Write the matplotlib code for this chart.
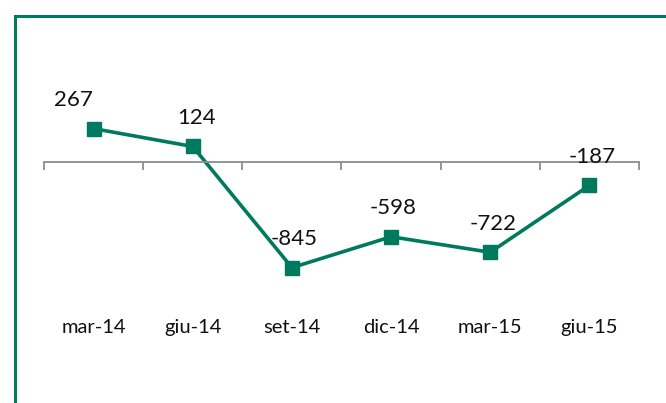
import matplotlib
matplotlib.use("Agg")
import matplotlib.pyplot as plt
from matplotlib.patches import Rectangle
from matplotlib.transforms import blended_transform_factory

categories = ["mar-14", "giu-14", "set-14", "dic-14", "mar-15", "giu-15"]
values = [267, 124, -845, -598, -722, -187]
# pixel nudges for the value labels (first one was moved left in the original)
label_dx = [-20, 4, 2, 2, 3, 3]

green = "#007A5E"
grey = "#8C8C8C"
plt.rcParams['font.family'] = ['Lato', 'DejaVu Sans']

fig = plt.figure(figsize=(6.66, 4.03), dpi=100)
fig.patches.append(Rectangle((15 / 666, -0.1), 1.2, (403 - 16) / 403 + 0.1,
                             transform=fig.transFigure, fill=False,
                             edgecolor=green, linewidth=2.2))

ax = fig.add_axes([44 / 666, (403 - 287) / 403, 595 / 666, 225 / 403])
x = list(range(len(categories)))
ax.plot(x, values, color=green, linewidth=2.6, marker="s", markersize=10.5,
        markerfacecolor=green, markeredgecolor=green)
ax.set_xlim(-0.5, len(categories) - 0.5)
ax.set_ylim(-1000, 800)

for s in ["top", "right", "left"]:
    ax.spines[s].set_visible(False)
ax.spines["bottom"].set_position(("data", 0))
ax.spines["bottom"].set_color(grey)
ax.spines["bottom"].set_linewidth(1.3)
ax.set_yticks([])
ax.set_xticks([i - 0.5 for i in range(len(categories) + 1)])
ax.set_xticklabels([])
ax.tick_params(axis="x", direction="out", length=6, width=1.3, color=grey)

trans = blended_transform_factory(ax.transData, ax.transAxes)
for i, c in enumerate(categories):
    ax.text(i, -0.182, c, transform=trans, ha="center", va="center",
            fontsize=14.5, color="#111111")

for i, v in enumerate(values):
    ax.annotate(f"{v}", (i, v), xytext=(label_dx[i] * 0.72, 20.5),
                textcoords="offset points", ha="center", va="center",
                fontsize=16, color="#111111")

fig.savefig("out.png", dpi=100)
